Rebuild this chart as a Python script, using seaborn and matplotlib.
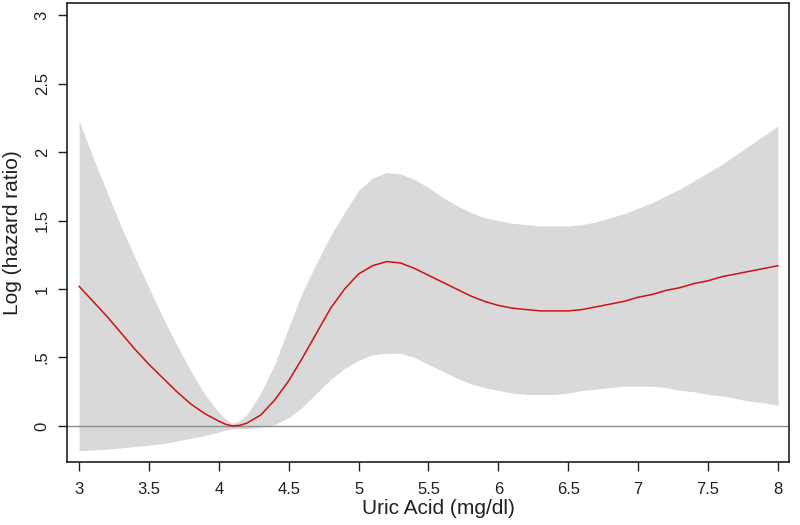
import matplotlib
matplotlib.use("Agg")
import matplotlib.pyplot as plt
import seaborn as sns
import pandas as pd

# valeurs (pas de 0.1 mg/dl, resserré autour du minimum)
uric = [3.0, 3.1, 3.2, 3.3, 3.4, 3.5, 3.6, 3.7, 3.8, 3.9,
        4.0, 4.05, 4.1, 4.15, 4.2, 4.3, 4.4, 4.5, 4.6, 4.7, 4.8, 4.9,
        5.0, 5.1, 5.2, 5.3, 5.4, 5.5, 5.6, 5.7, 5.8, 5.9,
        6.0, 6.1, 6.2, 6.3, 6.4, 6.5, 6.6, 6.7, 6.8, 6.9,
        7.0, 7.1, 7.2, 7.3, 7.4, 7.5, 7.6, 7.7, 7.8, 7.9, 8.0]

log_hr = [1.02, 0.91, 0.80, 0.68, 0.56, 0.45, 0.35, 0.25, 0.16, 0.09,
          0.035, 0.012, 0.00, 0.005, 0.02, 0.08, 0.19, 0.33, 0.50, 0.68, 0.86, 1.00,
          1.11, 1.17, 1.20, 1.19, 1.15, 1.10, 1.05, 1.00, 0.95, 0.91,
          0.88, 0.86, 0.85, 0.84, 0.84, 0.84, 0.85, 0.87, 0.89, 0.91,
          0.94, 0.96, 0.99, 1.01, 1.04, 1.06, 1.09, 1.11, 1.13, 1.15, 1.17]

ci_upper = [2.23, 1.96, 1.71, 1.46, 1.23, 1.01, 0.79, 0.59, 0.40, 0.23,
            0.10, 0.05, 0.02, 0.04, 0.08, 0.24, 0.45, 0.72, 0.98, 1.19, 1.39, 1.56,
            1.72, 1.81, 1.85, 1.84, 1.80, 1.74, 1.67, 1.61, 1.56, 1.52,
            1.50, 1.48, 1.47, 1.46, 1.46, 1.46, 1.47, 1.49, 1.52, 1.55,
            1.59, 1.63, 1.68, 1.73, 1.79, 1.85, 1.91, 1.98, 2.05, 2.12, 2.19]

ci_lower = [-0.18, -0.175, -0.17, -0.16, -0.15, -0.14, -0.13, -0.11, -0.09, -0.07,
            -0.045, -0.03, -0.02, -0.02, -0.02, -0.01, 0.01, 0.06, 0.14, 0.24, 0.34, 0.42,
            0.48, 0.52, 0.53, 0.53, 0.50, 0.45, 0.40, 0.35, 0.31, 0.28,
            0.26, 0.24, 0.23, 0.23, 0.23, 0.24, 0.26, 0.27, 0.28, 0.29,
            0.29, 0.29, 0.28, 0.26, 0.25, 0.23, 0.22, 0.20, 0.18, 0.17, 0.15]

xticks = [3, 3.5, 4, 4.5, 5, 5.5, 6, 6.5, 7, 7.5, 8]
xtick_labels = ["3", "3.5", "4", "4.5", "5", "5.5", "6", "6.5", "7", "7.5", "8"]
yticks = [0, 0.5, 1, 1.5, 2, 2.5, 3]
ytick_labels = ["0", ".5", "1", "1.5", "2", "2.5", "3"]

df = pd.DataFrame({"uric": uric, "loghr": log_hr, "lo": ci_lower, "hi": ci_upper})

sns.set_theme(style="ticks")
plt.rcParams['font.family'] = ['Liberation Sans', 'DejaVu Sans']

fig = plt.figure(figsize=(8, 5.25), dpi=100)
fig.patch.set_facecolor("white")
ax = fig.add_axes([0.08375, 0.12, 0.9025, 0.8743])

# bande de confiance puis ligne de référence et courbe
ax.fill_between(df["uric"], df["lo"], df["hi"], color="#d9d9d9", linewidth=0)
ax.axhline(0, color="#8c8c8c", lw=1.0)
sns.lineplot(x="uric", y="loghr", data=df, color="#d01010", lw=1.1, ax=ax)

ax.set_xlim(2.914, 8.079)
ax.set_ylim(-0.263, 3.088)
ax.set_xticks(xticks)
ax.set_xticklabels(xtick_labels)
ax.set_yticks(yticks)
ax.set_yticklabels(ytick_labels, rotation=90, va="center")

ax.tick_params(axis="both", direction="out", length=6.5, width=1.0,
               color="#202020", labelsize=12, labelcolor="#202020")
ax.tick_params(axis="x", pad=8)
ax.tick_params(axis="y", pad=6)

for sp in ax.spines.values():
    sp.set_color("#202020")
    sp.set_linewidth(1.2)

ax.set_xlabel("Uric Acid (mg/dl)", fontsize=15, color="#202020")
ax.set_ylabel("Log (hazard ratio)", fontsize=15, color="#202020")
ax.xaxis.set_label_coords(0.5145, -0.08)
ax.yaxis.set_label_coords(-0.062, 0.5)

fig.savefig("out.png", dpi=100)
